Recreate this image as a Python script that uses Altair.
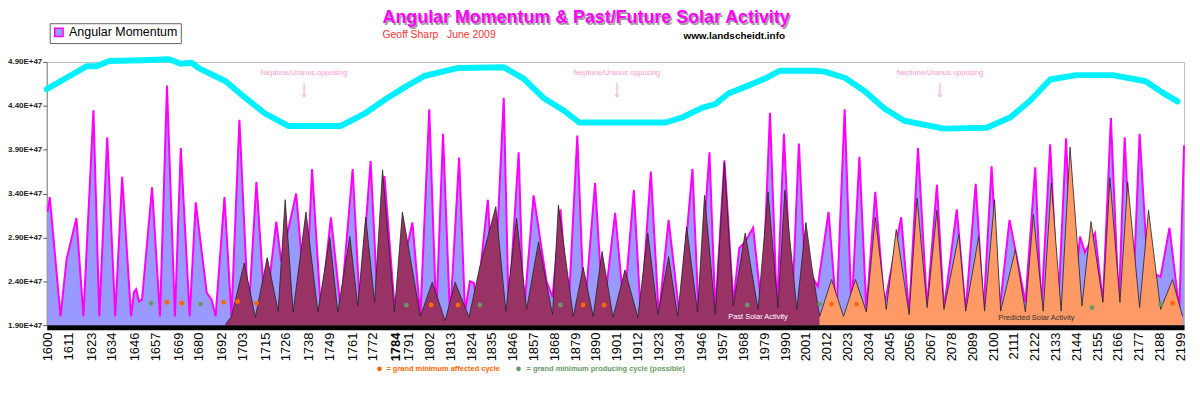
import altair as alt
import pandas as pd

# ---------------- data (values in units of E+47) ----------------
am_years = [1600.0, 1601.1, 1606.8, 1610.0, 1615.2, 1618.9, 1624.2, 1627.3, 1631.5, 1635.7,
            1639.4, 1644.1, 1645.7, 1646.8, 1648.3, 1649.9, 1655.2, 1659.4, 1663.1, 1667.3,
            1670.4, 1675.1, 1678.3, 1684.1, 1686.7, 1688.8, 1693.5, 1697.2, 1701.4, 1706.2,
            1710.4, 1715.1, 1720.9, 1723.5, 1731.4, 1736.6, 1739.8, 1744.5, 1749.8, 1755.0,
            1761.3, 1765.0, 1770.8, 1774.5, 1778.1, 1783.4, 1792.9, 1797.1, 1801.8, 1805.5,
            1809.1, 1812.8, 1817.6, 1820.7, 1823.3, 1825.4, 1827.0, 1832.8, 1835.9, 1841.2,
            1843.8, 1849.1, 1851.7, 1857.0, 1863.8, 1867.0, 1871.2, 1875.4, 1880.1, 1883.8,
            1889.5, 1893.8, 1900.1, 1904.8, 1910.0, 1913.7, 1919.0, 1923.2, 1928.4, 1934.2,
            1941.0, 1944.2, 1950.0, 1953.1, 1957.9, 1962.6, 1965.8, 1968.9, 1973.1, 1977.8,
            1982.0, 1985.7, 1989.4, 1993.6, 1997.3, 2001.5, 2004.6, 2007.3, 2013.0, 2017.2,
            2021.5, 2025.1, 2029.3, 2033.0, 2037.7, 2042.5, 2051.4, 2055.6, 2060.3, 2065.1,
            2070.3, 2074.0, 2080.8, 2085.5, 2090.8, 2095.0, 2099.2, 2103.4, 2108.7, 2117.1,
            2122.3, 2125.5, 2130.2, 2134.4, 2138.6, 2142.3, 2146.0, 2148.6, 2153.9, 2158.1,
            2162.3, 2166.5, 2169.6, 2173.8, 2177.5, 2182.8, 2186.0, 2188.6, 2193.3, 2198.5,
            2201.0]
am_values = [3.19, 3.36, 2.00, 2.65, 3.12, 2.00, 4.35, 2.00, 4.04, 2.00,
             3.59, 2.00, 2.28, 2.31, 2.17, 2.19, 3.47, 2.00, 4.63, 2.00,
             3.92, 2.00, 3.30, 2.27, 2.19, 2.00, 3.36, 2.00, 4.24, 2.00,
             3.53, 2.00, 3.08, 2.62, 3.40, 2.08, 3.68, 2.06, 3.13, 2.08,
             3.68, 2.12, 3.77, 2.14, 3.60, 2.12, 3.07, 2.00, 4.36, 2.00,
             4.08, 1.97, 3.81, 2.05, 2.40, 2.38, 2.16, 3.33, 2.05, 4.49,
             2.06, 3.87, 2.00, 3.38, 2.40, 2.22, 3.22, 2.05, 4.06, 2.00,
             3.52, 2.00, 3.18, 2.08, 3.44, 2.00, 3.65, 2.00, 3.10, 2.00,
             3.68, 2.05, 3.87, 2.05, 3.78, 2.16, 2.78, 2.85, 3.01, 2.05,
             4.32, 2.06, 4.08, 2.05, 3.97, 2.08, 2.44, 2.34, 3.19, 2.05,
             4.36, 2.05, 3.82, 2.06, 3.42, 2.12, 3.13, 2.02, 3.92, 2.10,
             3.50, 2.08, 3.22, 2.06, 3.51, 2.06, 3.71, 2.06, 3.10, 2.16,
             3.70, 2.08, 3.96, 2.08, 4.03, 2.12, 2.91, 2.73, 2.95, 2.16,
             4.26, 2.12, 4.04, 2.10, 4.08, 2.16, 2.48, 2.45, 3.01, 2.06,
             3.95]

past_years = [1694.1, 1697.2, 1704.0, 1709.8, 1716.1, 1721.9, 1725.6, 1729.8, 1736.6, 1742.9,
              1749.2, 1753.4, 1759.8, 1764.0, 1768.2, 1772.9, 1777.1, 1783.4, 1787.6, 1797.1,
              1803.4, 1810.2, 1815.5, 1822.8, 1828.6, 1837.0, 1842.3, 1848.0, 1853.3, 1859.6,
              1867.0, 1870.1, 1878.0, 1883.2, 1888.5, 1893.2, 1899.0, 1905.3, 1912.1, 1917.4,
              1922.7, 1928.4, 1933.2, 1937.9, 1943.7, 1947.4, 1953.1, 1957.9, 1962.6, 1968.9,
              1975.7, 1981.0, 1986.2, 1989.9, 1996.2, 2001.0, 2004.1, 2008.3]
past_values = [1.91, 2.00, 2.61, 1.99, 2.67, 2.06, 3.33, 2.05, 3.19, 2.05,
               2.90, 2.05, 2.91, 2.12, 3.13, 2.16, 3.67, 2.05, 3.19, 2.00,
               2.39, 1.95, 2.39, 1.99, 2.57, 3.25, 2.06, 3.12, 2.08, 2.85,
               2.02, 3.27, 2.00, 2.56, 2.00, 2.74, 1.99, 2.53, 1.99, 2.95,
               2.02, 2.68, 2.00, 3.02, 2.05, 3.38, 2.02, 3.75, 2.12, 2.95,
               2.08, 3.42, 2.10, 3.44, 2.08, 3.07, 2.57, 2.00]

pred_years = [2008.3, 2014.6, 2020.9, 2027.2, 2033.0, 2037.7, 2043.5, 2048.8, 2055.6, 2059.8,
              2065.1, 2070.3, 2074.0, 2081.9, 2085.5, 2092.4, 2095.5, 2100.8, 2104.0, 2111.8,
              2117.1, 2121.3, 2126.5, 2130.8, 2136.0, 2140.7, 2147.0, 2151.8, 2158.1, 2161.8,
              2167.1, 2171.2, 2177.5, 2182.2, 2188.6, 2194.9, 2200.2]
pred_values = [2.00, 2.42, 2.00, 2.42, 2.05, 3.13, 2.08, 2.99, 2.02, 3.35,
               2.10, 3.21, 2.08, 2.93, 2.06, 2.91, 2.06, 3.33, 2.06, 2.76,
               2.05, 3.16, 2.06, 3.52, 2.06, 3.93, 2.12, 3.08, 2.16, 3.58,
               2.16, 3.53, 2.10, 3.21, 2.08, 2.42, 2.00]

cyan_years = [1599.5, 1610.0, 1620.5, 1625.7, 1632.6, 1649.9, 1664.1, 1670.4, 1676.2, 1679.9,
              1694.1, 1704.6, 1715.1, 1727.2, 1755.0, 1767.6, 1779.7, 1788.7, 1799.2, 1816.5,
              1841.2, 1851.7, 1862.2, 1872.7, 1881.1, 1926.9, 1935.8, 1946.3, 1953.1, 1960.0,
              1970.5, 1979.4, 1987.3, 2005.7, 2010.9, 2021.5, 2032.0, 2042.5, 2053.0, 2074.0,
              2096.6, 2109.2, 2119.7, 2130.2, 2143.9, 2163.3, 2180.7, 2189.6, 2197.5]
cyan_values = [4.59, 4.72, 4.85, 4.85, 4.91, 4.92, 4.93, 4.88, 4.89, 4.83,
               4.68, 4.49, 4.31, 4.17, 4.17, 4.31, 4.49, 4.61, 4.74, 4.83,
               4.84, 4.71, 4.49, 4.35, 4.21, 4.21, 4.27, 4.38, 4.42, 4.54,
               4.63, 4.71, 4.80, 4.80, 4.79, 4.72, 4.57, 4.37, 4.23, 4.14,
               4.15, 4.27, 4.46, 4.70, 4.75, 4.75, 4.68, 4.55, 4.45]

affected_years = [1663.1, 1670.9, 1693.0, 1700.4, 1710.4, 1802.8, 1817.0, 1883.2, 1894.3,
                  2014.6, 2027.8, 2194.9]
affected_values = [2.16, 2.15, 2.16, 2.17, 2.15, 2.13, 2.13, 2.13, 2.13, 2.14, 2.14, 2.15]
producing_years = [1654.7, 1680.9, 1789.7, 1828.6, 1871.2, 1970.0, 2008.3, 2152.3, 2188.6]
producing_values = [2.15, 2.14, 2.13, 2.13, 2.13, 2.13, 2.14, 2.10, 2.14]

opposing_years = [1735.6, 1901.1, 2071.9]
opposing_text_value = 4.775
arrow_top_value = 4.66
arrow_bottom_value = 4.50

x_tick_years = [1600, 1611, 1623, 1634, 1646, 1657, 1669, 1680, 1692, 1703, 1715, 1726, 1738,
                1749, 1761, 1772, 1784, 1791, 1802, 1813, 1824, 1835, 1846, 1857, 1868, 1879,
                1890, 1901, 1912, 1923, 1934, 1946, 1957, 1968, 1979, 1990, 2001, 2012, 2023,
                2034, 2045, 2056, 2067, 2078, 2089, 2100, 2111, 2122, 2133, 2144, 2155, 2166,
                2177, 2188, 2199]
y_ticks = [1.90, 2.40, 2.90, 3.40, 3.90, 4.40, 4.90]
baseline_value = 1.90

FONT = "Liberation Sans"

# ---------------- tables ----------------
am_df = pd.DataFrame({"year": am_years, "value": am_values, "series": "Angular Momentum"})
past_df = pd.DataFrame({"year": past_years, "value": past_values})
pred_df = pd.DataFrame({"year": pred_years, "value": pred_values})
cyan_df = pd.DataFrame({"year": cyan_years, "value": cyan_values})
aff_df = pd.DataFrame({"year": affected_years, "value": affected_values})
prod_df = pd.DataFrame({"year": producing_years, "value": producing_values})
opp_df = pd.DataFrame({"year": opposing_years,
                       "value": [opposing_text_value] * len(opposing_years),
                       "top": [arrow_top_value] * len(opposing_years),
                       "bottom": [arrow_bottom_value] * len(opposing_years),
                       "label": ["Neptune/Uranus opposing"] * len(opposing_years)})

x_scale = alt.Scale(domain=[1599.5, 2201], nice=False, zero=False)
y_scale = alt.Scale(domain=[1.9, 4.9], nice=False, zero=False)

x_enc = alt.X("year:Q", scale=x_scale, title=None,
              axis=alt.Axis(values=x_tick_years, format="d", labelAngle=-90, labelFontSize=13,
                            labelColor="black", labelFont=FONT, labelOverlap=False,
                            labelFlush=False, ticks=False, domainColor="black",
                            domainWidth=5, labelPadding=5, grid=False, offset=2, zindex=1,
                            labelFontWeight={"condition": {"test": "datum.value == 1784",
                                                           "value": "bold"},
                                             "value": "normal"}))
y_enc = alt.Y("value:Q", scale=y_scale, title=None,
              axis=alt.Axis(values=y_ticks,
                            labelExpr="format(datum.value, '.2f') + 'E+47'",
                            labelFontSize=8, labelFontWeight="bold", labelColor="#222222",
                            labelFont=FONT, tickSize=4, tickColor="#555555",
                            domainColor="#888888", grid=False, labelPadding=1))
base = alt.datum(baseline_value)

am_area = alt.Chart(am_df).mark_area(opacity=1).encode(
    x=x_enc, y=y_enc, y2=base,
    color=alt.Color("series:N",
                    scale=alt.Scale(domain=["Angular Momentum"], range=["#9999FF"]),
                    legend=alt.Legend(orient="none", legendX=3, legendY=-39, title=None,
                                      symbolType="square", symbolSize=70,
                                      symbolStrokeColor="#FF00FF", symbolStrokeWidth=1.5,
                                      labelFontSize=12.5, labelFont=FONT, labelColor="black",
                                      strokeColor="#666666", fillColor="white", padding=3,
                                      labelOffset=4)))
am_line = alt.Chart(am_df).mark_line(color="#FF00FF", strokeWidth=2).encode(x=x_enc, y=y_enc)

past_area = alt.Chart(past_df).mark_area(color="#993366", opacity=1).encode(
    x=x_enc, y=y_enc, y2=base)
past_line = alt.Chart(past_df).mark_line(color="#222222", strokeWidth=0.8).encode(
    x=x_enc, y=y_enc)
pred_area = alt.Chart(pred_df).mark_area(color="#FF9966", opacity=1).encode(
    x=x_enc, y=y_enc, y2=base)
pred_line = alt.Chart(pred_df).mark_line(color="#222222", strokeWidth=0.8).encode(
    x=x_enc, y=y_enc)

cyan_line = alt.Chart(cyan_df).mark_line(
    color="#00F0FF", strokeWidth=6, strokeCap="round", strokeJoin="round"
).encode(x=x_enc, y=y_enc)

aff_dots = alt.Chart(aff_df).mark_circle(color="#FF6600", size=24, opacity=1).encode(x=x_enc, y=y_enc)
prod_dots = alt.Chart(prod_df).mark_circle(color="#669966", size=24, opacity=1).encode(x=x_enc, y=y_enc)

opp_text = alt.Chart(opp_df).mark_text(
    color="#FF99CC", fontSize=7.5, font=FONT, baseline="middle"
).encode(x=x_enc, y=y_enc, text="label:N")
opp_rule = alt.Chart(opp_df).mark_rule(color="#FF99CC", strokeWidth=1).encode(
    x=x_enc, y=alt.Y("top:Q", scale=y_scale), y2="bottom:Q")
opp_head = alt.Chart(opp_df).mark_point(
    shape="M -1 -1.2 L 0 0 L 1 -1.2", filled=False, color="#FF99CC", strokeWidth=1, size=25
).encode(x=x_enc, y=alt.Y("bottom:Q", scale=y_scale))

past_label = alt.Chart(pd.DataFrame({"year": [1975.7], "value": [1.99],
                                     "t": ["Past Solar Activity"]})).mark_text(
    color="white", fontSize=7.5, font=FONT).encode(x=x_enc, y=y_enc, text="t:N")
pred_label = alt.Chart(pd.DataFrame({"year": [2122.9], "value": [1.98],
                                     "t": ["Predicted Solar Activity"]})).mark_text(
    color="#333333", fontSize=7.5, font=FONT).encode(x=x_enc, y=y_enc, text="t:N")


def fixed_text(text, px, py, **kw):
    return alt.Chart(pd.DataFrame({"t": [text]})).mark_text(font=FONT, **kw).encode(
        x=alt.value(px), y=alt.value(py), text="t:N")


title_txt = "Angular Momentum & Past/Future Solar Activity"
title_shadow = fixed_text(title_txt, 544.5, -42.5, fontSize=18, fontWeight="bold",
                          color="#A0A0A0", align="center", baseline="middle")
title = fixed_text(title_txt, 543, -44, fontSize=18, fontWeight="bold",
                   color="#FF00FF", align="center", baseline="middle")
author = fixed_text("Geoff Sharp\u00a0\u00a0\u00a0June 2009", 338, -27, fontSize=10.5,
                    color="#FF3333", align="left", baseline="middle")
site = fixed_text("www.landscheidt.info", 641, -26, fontSize=10, fontWeight="bold",
                  color="black", align="left", baseline="middle")
foot1 = fixed_text("= grand minimum affected cycle", 342, 309, fontSize=7.5,
                   fontWeight="bold", color="#FF6600", align="left", baseline="middle")
foot2 = fixed_text("= grand minimum producing cycle (possible)", 483, 309, fontSize=7.5,
                   fontWeight="bold", color="#669966", align="left", baseline="middle")
foot_dot1 = alt.Chart(pd.DataFrame({"t": [1]})).mark_circle(
    color="#FF6600", size=22, opacity=1).encode(x=alt.value(335), y=alt.value(309))
foot_dot2 = alt.Chart(pd.DataFrame({"t": [1]})).mark_circle(
    color="#669966", size=22, opacity=1).encode(x=alt.value(475), y=alt.value(309))

chart = alt.layer(
    am_area, am_line, past_area, past_line, pred_area, pred_line, cyan_line,
    aff_dots, prod_dots, opp_text, opp_rule, opp_head, past_label, pred_label,
    title_shadow, title, author, site, foot_dot1, foot1, foot_dot2, foot2
).properties(
    width=1145, height=265,
    autosize=alt.AutoSizeParams(type="none"),
    padding={"left": 39, "top": 53, "right": 8, "bottom": 70},
    background="white",
).configure_view(stroke="#BBBBBB", strokeWidth=1)

chart.save("out.html", embed_options={"renderer": "svg", "actions": False})
